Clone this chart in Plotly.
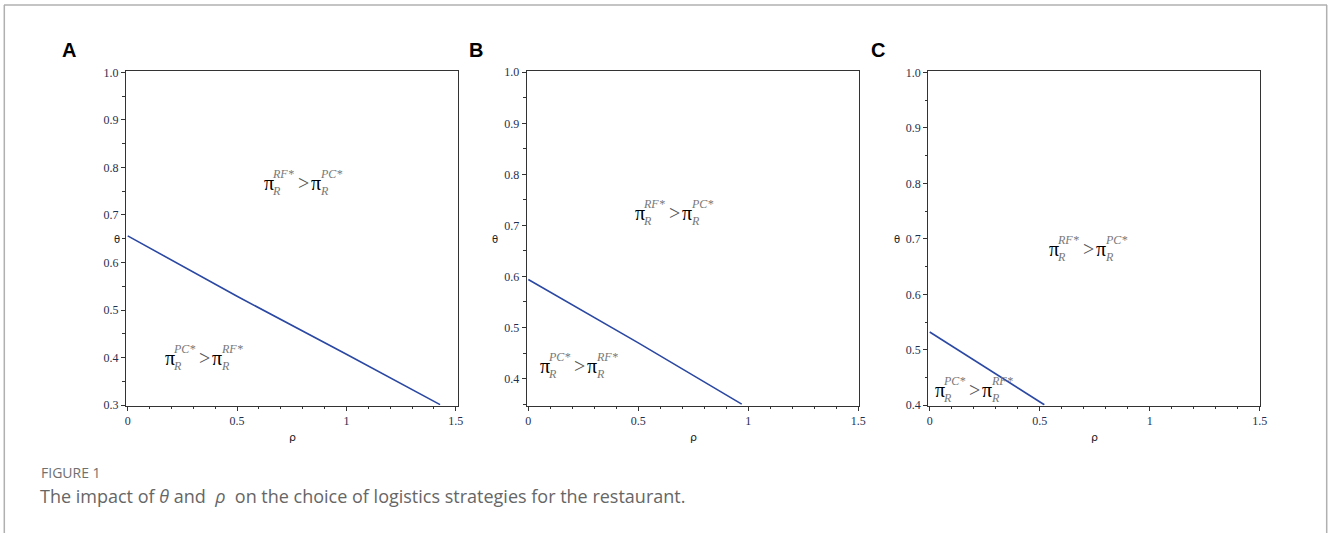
import plotly.graph_objects as go

# ---- data ----
rho_A = [0.0, 0.5, 1.0, 1.428]
theta_A = [0.656, 0.529, 0.407, 0.301]
rho_B = [0.0, 0.5, 0.970]
theta_B = [0.594, 0.470, 0.350]
rho_C = [0.0, 0.25, 0.521]
theta_C = [0.532, 0.469, 0.401]

panel_letters = ["A", "B", "C"]
x_tickvals = [0, 0.5, 1, 1.5]
x_ticktext = ["0", "0.5", "1", "1.5"]
yticks_A = [0.3, 0.4, 0.5, 0.6, 0.7, 0.8, 0.9, 1.0]
yticks_B = [0.4, 0.5, 0.6, 0.7, 0.8, 0.9, 1.0]
yticks_C = [0.4, 0.5, 0.6, 0.7, 0.8, 0.9, 1.0]

W, H = 1328, 533
LINE_COLOR = "#2b48a3"
TICK_COLOR = "#1f2f4f"

fig = go.Figure()

panels = [
    dict(l=126, r=458, xr=[-0.0078, 1.510], yr=[0.299, 1.0034], yt=yticks_A,
         rho=rho_A, th=theta_A),
    dict(l=526.7, r=859.3, xr=[-0.0073, 1.5045], yr=[0.347, 1.0031], yt=yticks_B,
         rho=rho_B, th=theta_B),
    dict(l=928.3, r=1260, xr=[-0.0064, 1.5014], yr=[0.3994, 1.003], yt=yticks_C,
         rho=rho_C, th=theta_C),
]
TOP, BOT = 70.7, 405.6

for i, p in enumerate(panels):
    n = "" if i == 0 else str(i + 1)
    fig.add_trace(go.Scatter(x=p["rho"], y=p["th"], mode="lines",
                             line=dict(color=LINE_COLOR, width=1.6),
                             xaxis="x" + n, yaxis="y" + n, showlegend=False,
                             hoverinfo="skip"))
    ax = dict(
        domain=[p["l"] / W, p["r"] / W], range=p["xr"], anchor="y" + n,
        showgrid=False, zeroline=False, showline=True, linecolor="#333",
        linewidth=1.2, mirror=True, ticks="outside", ticklen=4, tickwidth=1,
        tickcolor="#333", tickvals=x_tickvals, ticktext=x_ticktext,
        tickfont=dict(family="Liberation Serif", size=12, color=TICK_COLOR),
        minor=dict(ticks="outside", ticklen=2.5, dtick=0.1, tick0=0, tickcolor="#333"),
        automargin=False, fixedrange=True,
    )
    ay = dict(
        domain=[1 - BOT / H, 1 - TOP / H], range=p["yr"], anchor="x" + n,
        showgrid=False, zeroline=False, showline=True, linecolor="#333",
        linewidth=1.2, mirror=True, ticks="outside", ticklen=4, tickwidth=1,
        tickcolor="#333", tickvals=p["yt"], ticktext=["%.1f" % v for v in p["yt"]],
        tickfont=dict(family="Liberation Serif", size=12, color=TICK_COLOR),
        minor=dict(ticks="outside", ticklen=2.5, dtick=0.05, tick0=0, tickcolor="#333"),
        automargin=False, fixedrange=True,
    )
    fig.update_layout(**{"xaxis" + n: ax, "yaxis" + n: ay})

annotations = []

for letter, xpx in zip(panel_letters, [69, 476, 878]):
    annotations.append(dict(xref="paper", yref="paper", x=xpx / W, y=1 - 50 / H,
                            text="<b>%s</b>" % letter, showarrow=False,
                            font=dict(family="Liberation Sans", size=20, color="#000"),
                            xanchor="center", yanchor="middle"))

for p in panels:
    cx = (p["l"] + p["r"]) / 2
    annotations.append(dict(xref="paper", yref="paper", x=cx / W, y=1 - 437 / H,
                            text="ρ", showarrow=False,
                            font=dict(family="DejaVu Sans", size=11, color="#222"),
                            xanchor="center", yanchor="middle"))
for xpx in [117, 495, 897]:
    annotations.append(dict(xref="paper", yref="paper", x=xpx / W, y=1 - 239 / H,
                            text="θ", showarrow=False,
                            font=dict(family="DejaVu Sans", size=10, color="#222"),
                            xanchor="center", yanchor="middle"))


def inequality(xref, yref, x0, y0, first, second):
    """Place π_R^{first} > π_R^{second} with stacked scripts, left edge at (x0, y0)."""
    items = []
    big = dict(family="Liberation Serif", size=20, color="#000")
    small = dict(family="Liberation Serif", size=12, color="#777")
    gt = dict(family="Liberation Serif", size=20, color="#555")

    def put(text, dx, dy, font):
        items.append(dict(xref=xref, yref=yref, x=x0, y=y0, text=text,
                          showarrow=False, font=font, xanchor="left",
                          yanchor="middle", xshift=dx, yshift=dy))
    put("π", 0, 0, big)
    put("<i>%s</i>" % first, 8, 9, small)
    put("<i>R</i>", 8, -8, small)
    put("&gt;", 34, 0, gt)
    put("π", 47, 0, big)
    put("<i>%s</i>" % second, 56, 9, small)
    put("<i>R</i>", 56, -8, small)
    return items


annotations += inequality("x", "y", 0.615, 0.768, "RF*", "PC*")
annotations += inequality("x", "y", 0.16, 0.400, "PC*", "RF*")
annotations += inequality("x2", "y2", 0.476, 0.725, "RF*", "PC*")
annotations += inequality("x2", "y2", 0.044, 0.425, "PC*", "RF*")
annotations += inequality("x3", "y3", 0.534, 0.681, "RF*", "PC*")
annotations += inequality("x3", "y3", 0.015, 0.427, "PC*", "RF*")

annotations.append(dict(xref="paper", yref="paper", x=39 / W, y=1 - 472 / H,
                        text="FIGURE 1", showarrow=False,
                        font=dict(family="Open Sans", size=14, color="#707070"),
                        xanchor="left", yanchor="middle"))
annotations.append(dict(xref="paper", yref="paper", x=38 / W, y=1 - 496 / H,
                        text="The impact of <i>θ</i> and \u00a0<i>ρ</i> \u00a0on the choice of logistics strategies for the restaurant.",
                        showarrow=False,
                        font=dict(family="Open Sans", size=18, color="#666"),
                        xanchor="left", yanchor="middle"))

shapes = [
    dict(type="line", xref="paper", yref="paper", x0=4 / W, x1=1327 / W,
         y0=1 - 5 / H, y1=1 - 5 / H, line=dict(color="#b0b0b0", width=1.5)),
    dict(type="line", xref="paper", yref="paper", x0=4.3 / W, x1=4.3 / W,
         y0=1 - 5 / H, y1=0, line=dict(color="#b0b0b0", width=1.5)),
    dict(type="line", xref="paper", yref="paper", x0=1326.7 / W, x1=1326.7 / W,
         y0=1 - 5 / H, y1=0, line=dict(color="#b0b0b0", width=1.5)),
]

fig.update_layout(width=W, height=H, margin=dict(l=0, r=0, t=0, b=0),
                  paper_bgcolor="white", plot_bgcolor="white",
                  annotations=annotations, shapes=shapes, showlegend=False)

fig.write_html("out.html", config={"displayModeBar": False},
               post_script="document.body.style.margin='0';document.body.style.overflow='hidden';")
